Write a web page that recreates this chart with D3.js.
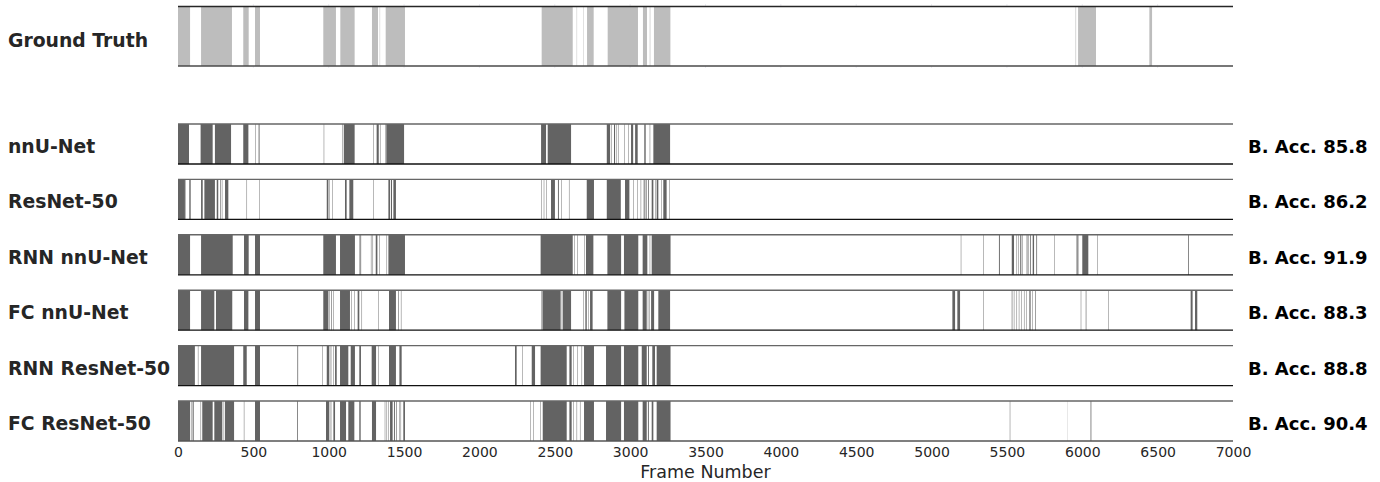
<!DOCTYPE html>
<html>
<head>
<meta charset="utf-8">
<script src="https://cdn.jsdelivr.net/npm/d3@7"></script>
<style>
html,body{margin:0;padding:0;background:#fff;}
svg{display:block;font-family:"DejaVu Sans",sans-serif;}
</style>
</head>
<body>
<svg id="chart" width="1380" height="482"></svg>
<script>
// ---------------- DATA ----------------
const frameTicks = [0,500,1000,1500,2000,2500,3000,3500,4000,4500,5000,5500,6000,6500,7000];
const xAxisTitle = "Frame Number";
const groundTruthLabel = "Ground Truth";
const modelNames = ["nnU-Net","ResNet-50","RNN nnU-Net","FC nnU-Net","RNN ResNet-50","FC ResNet-50"];
const balancedAccuracy = [85.8, 86.2, 91.9, 88.3, 88.8, 90.4];

// intervals of positive frames [start, end]
const groundTruth = [[0,80],[153,358],[433,469],[511,544],[964,1048],[1077,1172],[1287,1327],[1338,1341],[1378,1506],
  [2413,2619],[2645,2648],[2689,2692],[2714,2758],[2851,3052],[3085,3112],[3130,3134],[3158,3267],
  [5955,5959],[5972,6091],[6445,6463]];

const predNnUNet = [[0,73],[150,230],[245,352],[433,467],[511,514],[535,541],[967,970],[1091,1094],[1100,1172],
  [1294,1297],[1318,1332],[1340,1343],[1374,1377],[1382,1500],
  [2409,2442],[2453,2608],[2845,2867],[2876,2879],[2893,2900],[2910,2913],[2921,2924],[2961,2964],[2987,2990],
  [3006,3020],[3033,3050],[3094,3103],[3130,3133],[3154,3265]];

const predResNet50 = [[0,46],[50,53],[75,84],[153,164],[175,245],[257,267],[279,283],[291,294],[312,334],[455,458],[538,541],
  [987,998],[1005,1008],[1022,1025],[1108,1119],[1137,1163],[1295,1298],[1396,1407],[1413,1420],[1429,1446],
  [2412,2415],[2427,2430],[2445,2448],[2475,2501],[2521,2527],[2543,2546],[2594,2597],[2712,2760],[2845,2938],[2966,2995],
  [3022,3025],[3048,3051],[3070,3073],[3090,3096],[3103,3109],[3119,3124],[3143,3154],[3165,3168],[3176,3187],
  [3208,3211],[3220,3242],[3258,3261]];

const predRnnNnUNet = [[0,80],[153,363],[438,469],[511,544],[964,1048],[1075,1174],[1202,1205],[1210,1215],[1280,1283],
  [1291,1294],[1312,1323],[1335,1338],[1384,1387],[1396,1506],
  [2406,2619],[2629,2632],[2649,2652],[2695,2698],[2707,2756],[2849,2940],[2959,3054],[3083,3114],[3130,3133],[3143,3268],
  [5194,5197],[5343,5346],[5447,5453],[5532,5547],[5564,5567],[5576,5579],[5587,5592],[5598,5603],[5631,5636],[5642,5645],
  [5653,5658],[5671,5680],[5695,5700],[5814,5817],[5962,5965],[5967,5974],[6000,6040],[6101,6104],[6702,6707]];

const predFcNnUNet = [[0,80],[153,241],[252,360],[438,467],[511,544],[964,998],[1003,1006],[1016,1020],[1030,1033],
  [1075,1141],[1150,1153],[1169,1172],[1192,1203],[1218,1221],[1328,1331],[1400,1446],[1460,1464],[1479,1482],
  [2409,2412],[2418,2539],[2546,2549],[2553,2608],[2689,2692],[2703,2712],[2722,2725],[2734,2751],[2849,2940],
  [2962,3054],[3083,3110],[3117,3120],[3125,3128],[3139,3159],[3187,3265],
  [5138,5156],[5171,5189],[5343,5346],[5532,5536],[5546,5549],[5564,5567],[5579,5582],[5597,5600],[5613,5616],[5630,5633],
  [5649,5657],[5667,5670],[5688,5692],[5990,5993],[6023,6027],[6172,6175],[6719,6732],[6748,6763]];

const predRnnResNet50 = [[0,112],[132,135],[153,372],[433,456],[511,544],[792,797],[959,962],[987,1004],[1013,1017],
  [1031,1034],[1042,1053],[1075,1130],[1146,1174],[1203,1214],[1285,1314],[1329,1332],[1400,1446],[1469,1484],
  [2236,2247],[2284,2287],[2347,2369],[2406,2579],[2597,2612],[2622,2625],[2650,2653],[2678,2681],[2694,2760],
  [2840,2940],[2959,3054],[3077,3110],[3119,3125],[3147,3165],[3176,3268]];

const predFcResNet50 = [[0,80],[86,89],[97,104],[150,153],[161,230],[241,294],[303,306],[312,372],[437,440],[511,544],
  [790,795],[982,1004],[1013,1017],[1031,1042],[1075,1115],[1130,1170],[1203,1212],[1287,1314],[1372,1375],[1384,1387],
  [1396,1399],[1407,1424],[1433,1439],[1449,1453],[1468,1471],[1477,1480],[1495,1506],
  [2336,2339],[2358,2361],[2405,2408],[2420,2579],[2597,2612],[2623,2626],[2645,2648],[2667,2670],[2694,2760],
  [2840,2940],[2959,3054],[3083,3110],[3118,3124],[3143,3154],[3176,3268],
  [5519,5522],[5900,5901],[6055,6060]];

const predictions = [predNnUNet, predResNet50, predRnnNnUNet, predFcNnUNet, predRnnResNet50, predFcResNet50];

// ---------------- DRAW ----------------
const svg = d3.select("#chart");
const x = d3.scaleLinear().domain([0, 7000]).range([178, 1233]);

const gtTop = 6, gtH = 60;
const predTop0 = 124, predStep = 55.4, predH = 40;

// faint grid stubs outside the ground-truth panel
const stubs = svg.append("g");
frameTicks.slice(1, -1).forEach(d => {
  stubs.append("line").attr("x1", x(d)).attr("x2", x(d)).attr("y1", gtTop - 2).attr("y2", gtTop)
    .attr("stroke", "#ececf2").attr("stroke-width", 1);
  stubs.append("line").attr("x1", x(d)).attr("x2", x(d)).attr("y1", gtTop + gtH).attr("y2", gtTop + gtH + 2)
    .attr("stroke", "#ececf2").attr("stroke-width", 1);
});

// ground truth bars
svg.append("g").selectAll("rect").data(groundTruth).join("rect")
  .attr("x", d => x(d[0])).attr("width", d => x(d[1]) - x(d[0]))
  .attr("y", gtTop).attr("height", gtH)
  .attr("fill", "#bdbdbd");
svg.append("line").attr("x1", x(0)).attr("x2", x(7000)).attr("y1", gtTop + 0.5).attr("y2", gtTop + 0.5)
  .attr("stroke", "#262626").attr("stroke-width", 1.3);
svg.append("line").attr("x1", x(0)).attr("x2", x(7000)).attr("y1", gtTop + gtH).attr("y2", gtTop + gtH)
  .attr("stroke", "#4a4a4a").attr("stroke-width", 1.3);
svg.append("text").attr("x", 8).attr("y", gtTop + gtH / 2 + 11)
  .attr("font-size", 18.8).attr("font-weight", "bold").attr("fill", "#262626").text(groundTruthLabel);

// prediction rows
predictions.forEach((intervals, i) => {
  const top = predTop0 + i * predStep;
  const g = svg.append("g");
  g.selectAll("rect").data(intervals).join("rect")
    .attr("x", d => x(d[0])).attr("width", d => x(d[1]) - x(d[0]))
    .attr("y", top).attr("height", predH)
    .attr("fill", "#636363");
  g.append("line").attr("x1", x(0)).attr("x2", x(7000)).attr("y1", top).attr("y2", top)
    .attr("stroke", "#666666").attr("stroke-width", 1.4);
  g.append("line").attr("x1", x(0)).attr("x2", x(7000)).attr("y1", top + predH).attr("y2", top + predH)
    .attr("stroke", i === predictions.length - 1 ? "#555555" : "#111111").attr("stroke-width", 1.3);
  g.append("text").attr("x", 8).attr("y", top + predH / 2 + 9)
    .attr("font-size", 18.8).attr("font-weight", "bold").attr("fill", "#262626").text(modelNames[i]);
  g.append("text").attr("x", 1248).attr("y", top + predH / 2 + 9)
    .attr("font-size", 18).attr("font-weight", "bold").attr("fill", "#000").text("B. Acc. " + balancedAccuracy[i].toFixed(1));
});

// x axis
const lastBottom = predTop0 + 5 * predStep + predH;
const axis = d3.axisBottom(x).tickValues(frameTicks).tickSize(0).tickPadding(6).tickFormat(d3.format("d"));
const ax = svg.append("g").attr("transform", `translate(0,${lastBottom})`).call(axis);
ax.select(".domain").remove();
ax.selectAll("text").attr("font-size", 14).attr("fill", "#262626").attr("font-family", "DejaVu Sans, sans-serif");
svg.append("text").attr("x", x(3500)).attr("y", lastBottom + 37).attr("text-anchor", "middle")
  .attr("font-size", 17.5).attr("fill", "#262626").text(xAxisTitle);
</script>
</body>
</html>
